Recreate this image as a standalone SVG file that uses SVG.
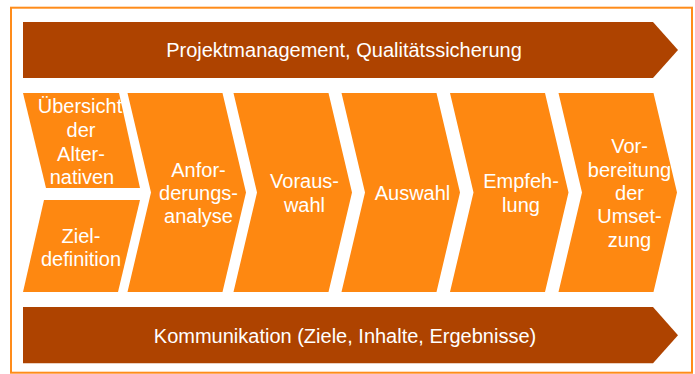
<svg xmlns="http://www.w3.org/2000/svg" width="695" height="374" viewBox="0 0 695 374">
<style>
.band{fill:#AE4300}
.step{fill:#FE8811}
text{font-family:"Liberation Sans",Arial,sans-serif;font-size:20px;fill:#fff;text-anchor:middle}
</style>
<rect x="0" y="0" width="695" height="374" fill="#fff"/>
<rect x="11" y="7.7" width="681" height="365" fill="none" stroke="#FF8C1A" stroke-width="2"/>
<g id="projektmanagement">
<polygon class="band" points="23,22 653,22 678,50 653,78 23,78"/>
<text x="344" y="57">Projektmanagement, Qualitätssicherung</text>
</g>
<g id="uebersicht">
<polygon class="step" points="23,93 119,93 140,188 46,188"/>
<text x="80"><tspan x="80" y="112.5">Übersicht</tspan><tspan x="81" y="136.5">der</tspan><tspan x="81" y="160.5">Alter-</tspan><tspan x="82" y="184">nativen</tspan></text>
</g>
<g id="zieldefinition">
<polygon class="step" points="44,200 140,200 118,292 23,292"/>
<text><tspan x="81" y="242.7">Ziel-</tspan><tspan x="81" y="266">definition</tspan></text>
</g>
<g id="anforderungsanalyse">
<polygon class="step" points="127.5,93 222.5,93 246,192.5 222.5,292 127.5,292 151,192.5"/>
<text><tspan x="198.5" y="176.7">Anfor-</tspan><tspan x="198.5" y="200">derungs-</tspan><tspan x="198.5" y="223.3">analyse</tspan></text>
</g>
<g id="vorauswahl">
<polygon class="step" points="233.5,93 328.5,93 352,192.5 328.5,292 233.5,292 257,192.5"/>
<text><tspan x="304.5" y="188.3">Voraus-</tspan><tspan x="304.5" y="211.7">wahl</tspan></text>
</g>
<g id="auswahl">
<polygon class="step" points="341.5,93 436.5,93 460,192.5 436.5,292 341.5,292 365,192.5"/>
<text x="412.5" y="200">Auswahl</text>
</g>
<g id="empfehlung">
<polygon class="step" points="450,93 545,93 568.5,192.5 545,292 450,292 473.5,192.5"/>
<text><tspan x="521" y="188.3">Empfeh-</tspan><tspan x="521" y="211.7">lung</tspan></text>
</g>
<g id="vorbereitung">
<polygon class="step" points="558.5,93 653.5,93 677,192.5 653.5,292 558.5,292 582,192.5"/>
<text><tspan x="629.5" y="153.3">Vor-</tspan><tspan x="629.5" y="176.7">bereitung</tspan><tspan x="629.5" y="200">der</tspan><tspan x="629.5" y="223.3">Umset-</tspan><tspan x="629.5" y="246.7">zung</tspan></text>
</g>
<g id="kommunikation">
<polygon class="band" points="23,307 653,307 678,335.3 653,363.3 23,363.3"/>
<text x="345" y="342.7">Kommunikation (Ziele, Inhalte, Ergebnisse)</text>
</g>
<g id="connectors"></g>
</svg>
